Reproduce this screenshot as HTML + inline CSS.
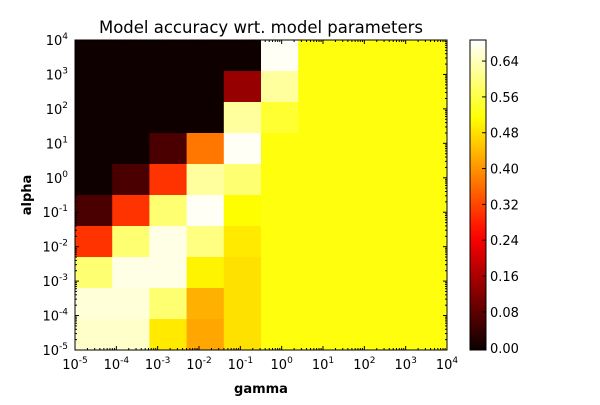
<!DOCTYPE html>
<html><head><meta charset="utf-8"><style>
body{margin:0;background:#fff;}
svg{font-family:"DejaVu Sans","Liberation Sans",sans-serif;}
</style></head><body>
<svg id="c" width="600" height="400" xmlns="http://www.w3.org/2000/svg">
<rect width="600" height="400" fill="#fff"/>
<text x="261" y="33" font-size="16.5" text-anchor="middle">Model accuracy wrt. model parameters</text>
<g id="cells"></g>
<g id="axes"></g>
<text x="261" y="393" font-size="13" font-weight="bold" text-anchor="middle">gamma</text>
<text x="31" y="195" font-size="13" font-weight="bold" text-anchor="middle" transform="rotate(-90 31 195)">alpha</text>
<g id="cbar"></g>
</svg>
<script>
const gammaExps=[-5,-4,-3,-2,-1,0,1,2,3,4];
const alphaExps=[-5,-4,-3,-2,-1,0,1,2,3,4];
// rows from top (alpha 1e4) to bottom (alpha 1e-5)
const scores=[
[0,0,0,0,0,0.68,0.52,0.52,0.52,0.52],
[0,0,0,0,0.14,0.62,0.52,0.52,0.52,0.52],
[0,0,0,0,0.62,0.545,0.52,0.52,0.52,0.52],
[0,0,0.06,0.37,0.68,0.52,0.52,0.52,0.52,0.52],
[0,0.06,0.30,0.62,0.59,0.52,0.52,0.52,0.52,0.52],
[0.06,0.30,0.59,0.68,0.51,0.52,0.52,0.52,0.52,0.52],
[0.30,0.59,0.67,0.60,0.49,0.52,0.52,0.52,0.52,0.52],
[0.59,0.67,0.67,0.50,0.48,0.52,0.52,0.52,0.52,0.52],
[0.66,0.66,0.59,0.43,0.48,0.52,0.52,0.52,0.52,0.52],
[0.65,0.65,0.49,0.42,0.48,0.52,0.52,0.52,0.52,0.52]];
const cbarTicks=[0,0.08,0.16,0.24,0.32,0.40,0.48,0.56,0.64];
const vmin=-0.005,vmax=0.687;
const NS="http://www.w3.org/2000/svg";
const L=75,R=447,T=40,B=350;
function mk(t,a,p){const e=document.createElementNS(NS,t);for(const k in a)e.setAttribute(k,a[k]);p.appendChild(e);return e;}
function hot(v){let t=(v-vmin)/(vmax-vmin);t=Math.max(0,Math.min(1,t));
 const r=Math.min(1,0.0416+t/0.365*(1-0.0416)),g=Math.max(0,Math.min(1,(t-0.365)/0.381)),b=Math.max(0,Math.min(1,(t-0.746)/0.254));
 return `rgb(${Math.round(r*255)},${Math.round(g*255)},${Math.round(b*255)})`;}
const nc=gammaExps.length,nr=alphaExps.length;
const cw=(R-L)/nc,ch=(B-T)/nr;
const cells=document.getElementById('cells');
scores.forEach((row,i)=>row.forEach((v,j)=>{
 const r=mk('rect',{x:L+j*cw,y:T+i*ch,width:cw+0.5,height:ch+0.5,fill:hot(v)},cells);
 
 
}));
const ax=document.getElementById('axes');
mk('rect',{x:L,y:T,width:R-L,height:B-T,fill:'none',stroke:'#000','stroke-width':1},ax);
const xs=e=>L+(e-gammaExps[0])/(gammaExps[nc-1]-gammaExps[0])*(R-L);
const ys=e=>B-(e-alphaExps[0])/(alphaExps[nr-1]-alphaExps[0])*(B-T);
gammaExps.forEach(e=>{const x=xs(e);
 mk('line',{x1:x,y1:B,x2:x,y2:B-4,stroke:'#000'},ax);mk('line',{x1:x,y1:T,x2:x,y2:T+4,stroke:'#000'},ax);
 if(e<gammaExps[nc-1])for(let k=2;k<10;k++){const xm=x+Math.log10(k)*(xs(e+1)-x);
  mk('line',{x1:xm,y1:B,x2:xm,y2:B-2,stroke:'#000'},ax);mk('line',{x1:xm,y1:T,x2:xm,y2:T+2,stroke:'#000'},ax);}
 const t=mk('text',{x:x,y:369,'font-size':13,'text-anchor':'middle'},ax);
 
 
 t.innerHTML=`10<tspan dy="-6" font-size="9">${e}</tspan>`;
});
alphaExps.forEach(e=>{const y=ys(e);
 mk('line',{x1:L,y1:y,x2:L+4,y2:y,stroke:'#000'},ax);mk('line',{x1:R,y1:y,x2:R-4,y2:y,stroke:'#000'},ax);
 if(e<alphaExps[nr-1])for(let k=2;k<10;k++){const ym=y-Math.log10(k)*(y-ys(e+1));
  mk('line',{x1:L,y1:ym,x2:L+2,y2:ym,stroke:'#000'},ax);mk('line',{x1:R,y1:ym,x2:R-2,y2:ym,stroke:'#000'},ax);}
 const t=mk('text',{x:68,y:y+5,'font-size':13,'text-anchor':'end'},ax);
 
 
 t.innerHTML=`10<tspan dy="-6" font-size="9">${e}</tspan>`;
});
const cb=document.getElementById('cbar');
const defs=mk('defs',{},cb);const gr=mk('linearGradient',{id:'hg',x1:0,y1:1,x2:0,y2:0},defs);
for(let i=0;i<=20;i++){const v=vmin+(vmax-vmin)*i/20;mk('stop',{offset:i/20,'stop-color':hot(v)},gr);}
mk('rect',{x:470,y:T,width:16,height:B-T,fill:'url(#hg)',stroke:'#000'},cb);
const cy=v=>B-(v-vmin)/(vmax-vmin)*(B-T);
cbarTicks.forEach(v=>{const y=cy(v);
 mk('line',{x1:486,y1:y,x2:482,y2:y,stroke:'#000'},cb);
 const t=mk('text',{x:490,y:y+5,'font-size':13},cb);
 
 
 t.textContent=v.toFixed(2);
});
</script>
</body></html>
